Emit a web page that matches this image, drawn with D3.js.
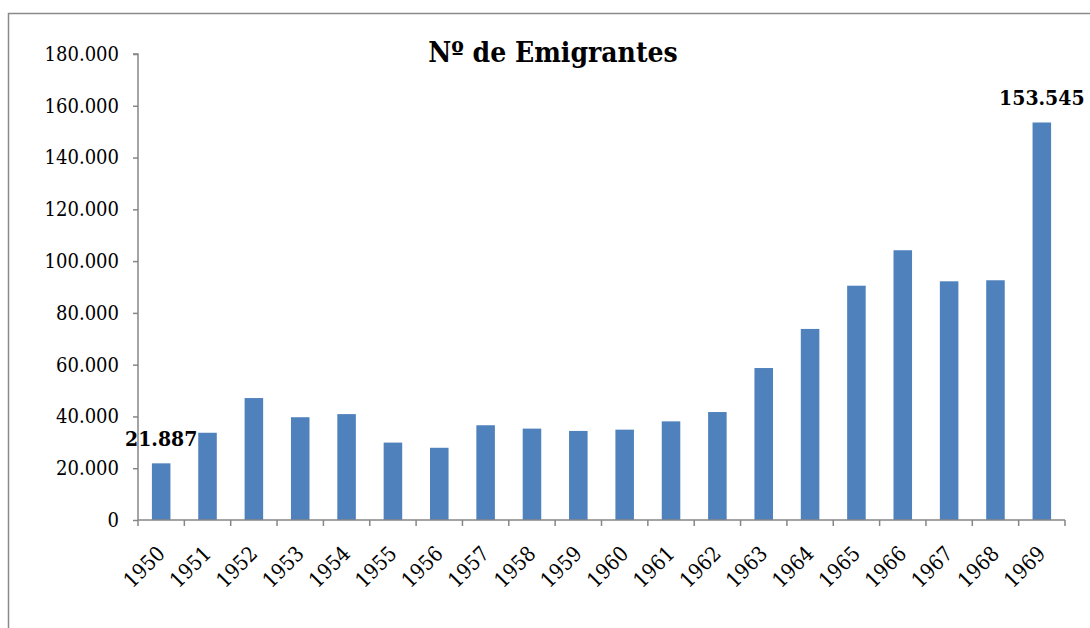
<!DOCTYPE html>
<html>
<head>
<meta charset="utf-8">
<script src="https://cdn.jsdelivr.net/npm/d3@7"></script>
<style>
  body { margin: 0; background: #fff; }
  svg { display: block; }
  .axis path, .axis line { stroke: #868686; stroke-width: 1.5; }
  .axis text, .lbl, .title { font-family: "DejaVu Serif Condensed", "DejaVu Serif", serif; font-stretch: condensed; fill: #000; }
  .axis text { font-size: 20px; }
  .x.axis text { font-size: 21px; }
</style>
</head>
<body>
<div id="chart"></div>
<script>
// data
const years = ["1950","1951","1952","1953","1954","1955","1956","1957","1958","1959",
               "1960","1961","1962","1963","1964","1965","1966","1967","1968","1969"];
const emigrants = [21887, 33700, 47100, 39700, 40900, 29900, 27900, 36600, 35300, 34400,
                   34900, 38100, 41700, 58700, 73800, 90500, 104200, 92200, 92600, 153545];
const yTicks = [0, 20000, 40000, 60000, 80000, 100000, 120000, 140000, 160000, 180000];
const labelled = ["1950", "1969"];
const title = "Nº de Emigrantes";

const trueWidth = 1090, trueHeight = 628;
const margin = {top: 54, right: 25, bottom: 108, left: 138};
const width = trueWidth - margin.left - margin.right;
const height = trueHeight - margin.top - margin.bottom;

const fmt = d3.formatLocale({decimal: ",", thousands: ".", grouping: [3], currency: ["", ""]}).format(",d");

const root = d3.select("#chart").append("svg")
  .attr("width", trueWidth)
  .attr("height", trueHeight);

// outer frame
root.append("rect")
  .attr("x", 8.5).attr("y", 13.5)
  .attr("width", 1200).attr("height", 800)
  .attr("fill", "none")
  .attr("stroke", "#8a8a8a")
  .attr("stroke-width", 1.5);

const svg = root.append("g")
  .attr("transform", "translate(" + margin.left + "," + margin.top + ")");

let x = d3.scaleBand().domain(years).range([0, width]).paddingInner(0.6).paddingOuter(0.3);
let y = d3.scaleLinear().domain([0, 180000]).range([height, 0]);

// bars
svg.selectAll("rect.bar")
  .data(years)
  .enter().append("rect")
  .attr("class", "bar")
  .attr("x", (d) => x(d))
  .attr("y", (d, i) => y(emigrants[i]))
  .attr("width", x.bandwidth())
  .attr("height", (d, i) => height - y(emigrants[i]))
  .attr("fill", "#4f81bd");

// y axis
let yAxis = d3.axisLeft(y).tickValues(yTicks).tickSize(5).tickPadding(14).tickFormat(fmt);
svg.append("g")
  .attr("class", "y axis")
  .call(yAxis)
  .call(g => g.select(".domain").attr("d", "M0," + height + "V0H-5"));

// x axis - ticks at category boundaries
const step = width / years.length;
const xg = svg.append("g")
  .attr("class", "x axis")
  .attr("transform", "translate(0," + height + ")");
xg.append("path")
  .attr("d", "M0,0H" + width)
  .attr("fill", "none");
xg.selectAll("line")
  .data(d3.range(years.length + 1))
  .enter().append("line")
  .attr("x1", (d) => d * step).attr("x2", (d) => d * step)
  .attr("y1", 0).attr("y2", 6);
xg.selectAll("text")
  .data(years)
  .enter().append("text")
  .attr("text-anchor", "end")
  .attr("transform", (d) => "translate(" + (x(d) + x.bandwidth() / 2 + 5) + ",35) rotate(-45)")
  .text((d) => d);

// data labels
svg.selectAll("text.lbl")
  .data(years.filter((d) => labelled.includes(d)))
  .enter().append("text")
  .attr("class", "lbl")
  .attr("x", (d) => x(d) + x.bandwidth() / 2)
  .attr("y", (d) => y(emigrants[years.indexOf(d)]) - 17)
  .attr("text-anchor", "middle")
  .attr("font-weight", "bold")
  .attr("font-size", 21)
  .text((d) => fmt(emigrants[years.indexOf(d)]));

// title
root.append("text")
  .attr("class", "title")
  .attr("x", 553)
  .attr("y", 62)
  .attr("text-anchor", "middle")
  .attr("font-weight", "bold")
  .attr("font-size", 28)
  .text(title);
</script>
</body>
</html>
